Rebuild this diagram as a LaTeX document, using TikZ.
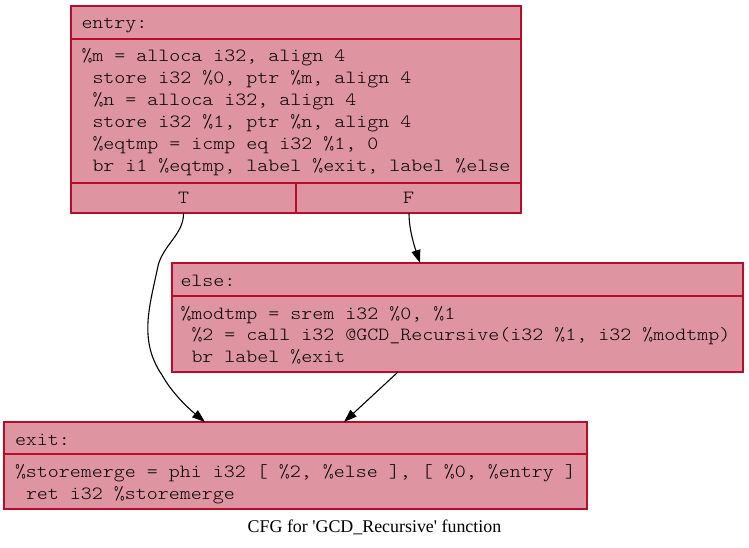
\documentclass[tikz,border=0pt]{standalone}
\usepackage{fontspec}
\setmainfont{Liberation Serif}
\newfontfamily\cfgmono{Latin Modern Mono Light}[FakeStretch=1.126]
\usetikzlibrary{arrows.meta,calc}
\definecolor{cfgline}{RGB}{183,13,40}
\definecolor{cfgfill}{RGB}{223,149,161}
\newcommand{\codefont}{\fontsize{18.6}{21.8}\selectfont\cfgmono}
\tikzset{
  blk/.style={draw=cfgline, fill=cfgfill, line width=1.2pt, inner sep=0pt, outer sep=0pt, anchor=north west},
  code/.style={font=\codefont, anchor=base west, inner sep=0pt, outer sep=0pt},
  port/.style={font=\codefont, anchor=base, inner sep=0pt, outer sep=0pt},
  cfgedge/.style={-{Triangle[length=13pt,width=9pt]}, line width=1.1pt, black},
}
\begin{document}
\begin{tikzpicture}[x=1pt,y=-1pt]
\useasboundingbox (0,0) rectangle (749,548);
% entry block
\node[blk, minimum width=450pt, minimum height=33pt] (entryH) at (71,6) {};
\node[blk, minimum width=450pt, minimum height=144pt] (entryB) at (71,39) {};
\node[blk, minimum width=225pt, minimum height=30pt] (entryT) at (71,183) {};
\node[blk, minimum width=225pt, minimum height=30pt] (entryF) at (296,183) {};
\node[code] (e0) at (81.5,29) {entry:};
\node[code] (e1) at (81.5,62) {\%m = alloca i32, align 4};
\node[code] (e2) at (92.5,84) {store i32 \%0, ptr \%m, align 4};
\node[code] (e3) at (92.5,106) {\%n = alloca i32, align 4};
\node[code] (e4) at (92.5,128) {store i32 \%1, ptr \%n, align 4};
\node[code] (e5) at (92.5,150) {\%eqtmp = icmp eq i32 \%1, 0};
\node[code] (e6) at (92.5,172) {br i1 \%eqtmp, label \%exit, label \%else};
\node[port] (tT) at (183.5,204) {T};
\node[port] (tF) at (408.5,204) {F};
% else block
\node[blk, minimum width=571pt, minimum height=33pt] (elseH) at (172,263) {};
\node[blk, minimum width=571pt, minimum height=76pt] (elseB) at (172,296) {};
\node[code] (l0) at (180.5,286) {else:};
\node[code] (l1) at (180.5,319) {\%modtmp = srem i32 \%0, \%1};
\node[code] (l2) at (191.5,340.5) {\%2 = call i32 @GCD\_Recursive(i32 \%1, i32 \%modtmp)};
\node[code] (l3) at (191.5,362) {br label \%exit};
% exit block
\node[blk, minimum width=583pt, minimum height=32pt] (exitH) at (4,422) {};
\node[blk, minimum width=583pt, minimum height=55pt] (exitB) at (4,454) {};
\node[code] (x0) at (15,445) {exit:};
\node[code] (x1) at (15,477) {\%storemerge = phi i32 [ \%2, \%else ], [ \%0, \%entry ]};
\node[code] (x2) at (26,499) {ret i32 \%storemerge};
% caption
\node[font=\fontsize{17.9}{21.8}\selectfont, anchor=base, inner sep=0pt] (cap) at (374.5,532) {CFG for \textquotesingle GCD\_Recursive\textquotesingle{} function};
% edges
\draw[cfgedge] (entryT.south) .. controls ($(entryT.south)+(0.5,21)$) and (163,245) .. (158,266)
  .. controls (150,305) and (138,340) .. (162,375)
  .. controls (172,393) and (188,408) .. ($(exitH.north west)+(201,0)$);
\draw[cfgedge] ($(entryF.south)+(0.5,0)$) .. controls ($(entryF.south)+(0.5,16)$) and (414,245) .. ($(elseH.north west)+(248,0)$);
\draw[cfgedge] ($(elseB.south west)+(226,0)$) -- ($(exitH.north west)+(340,0)$);
\end{tikzpicture}
\end{document}
